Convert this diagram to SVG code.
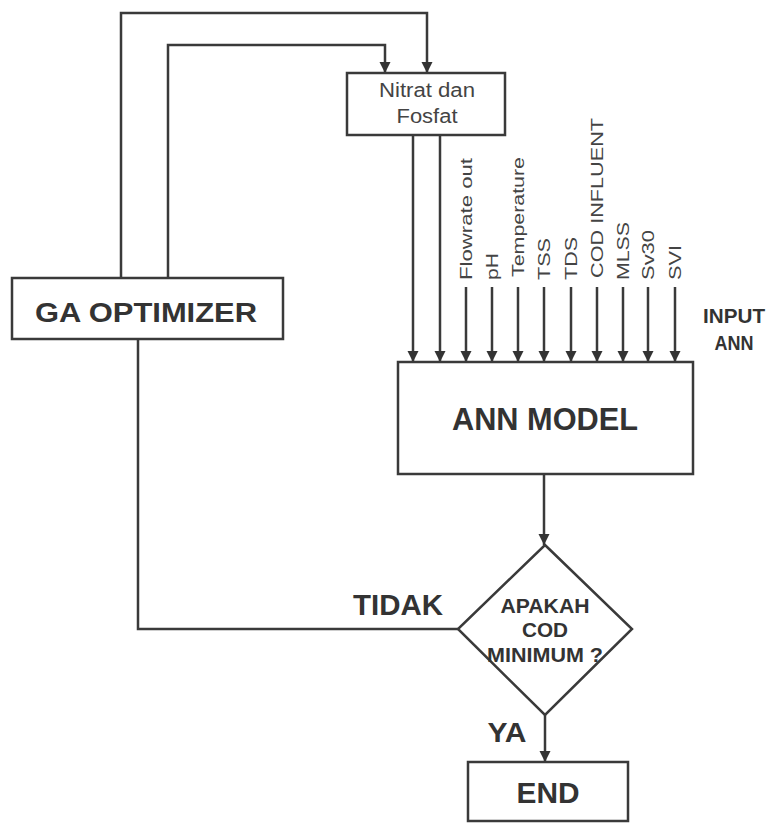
<svg xmlns="http://www.w3.org/2000/svg" width="769" height="823" viewBox="0 0 769 823">
<style>
.box{fill:#fff;stroke:#3a3a3a;stroke-width:2.5}
.ln{fill:none;stroke:#3a3a3a;stroke-width:2.5}
.b{font-family:"Liberation Sans",Arial,sans-serif;font-weight:bold;fill:#333}
.r{font-family:"Liberation Sans",Arial,sans-serif;fill:#444}
.lab{font-family:"Liberation Sans",Arial,sans-serif;fill:#444;font-size:16.5px}
</style>
<defs>
<marker id="arr" markerUnits="userSpaceOnUse" markerWidth="12" markerHeight="12" viewBox="0 0 12 12" refX="11" refY="6" orient="auto">
<path d="M0,0.5 L11,6 L0,11.5 Z" fill="#333"/>
</marker>
</defs>
<rect width="769" height="823" fill="#fff"/>
<g id="connectors">
<path class="ln" d="M121,278 V13 H427 V73" marker-end="url(#arr)"/>
<path class="ln" d="M168,278 V45 H385 V73" marker-end="url(#arr)"/>
<path class="ln" d="M413,135 V362" marker-end="url(#arr)"/>
<path class="ln" d="M440,135 V362" marker-end="url(#arr)"/>
<path class="ln" d="M466,287 V362" marker-end="url(#arr)"/>
<path class="ln" d="M492,287 V362" marker-end="url(#arr)"/>
<path class="ln" d="M518,287 V362" marker-end="url(#arr)"/>
<path class="ln" d="M544,287 V362" marker-end="url(#arr)"/>
<path class="ln" d="M571,287 V362" marker-end="url(#arr)"/>
<path class="ln" d="M597,287 V362" marker-end="url(#arr)"/>
<path class="ln" d="M623,287 V362" marker-end="url(#arr)"/>
<path class="ln" d="M648,287 V362" marker-end="url(#arr)"/>
<path class="ln" d="M675,287 V362" marker-end="url(#arr)"/>
<path class="ln" d="M544,474 V545" marker-end="url(#arr)"/>
<path class="ln" d="M458,629 H138 V339"/>
<path class="ln" d="M545,715 V762" marker-end="url(#arr)"/>
</g>
<g id="input-labels">
<text class="lab" transform="translate(472,280) rotate(-90)" textLength="122" lengthAdjust="spacingAndGlyphs">Flowrate out</text>
<text class="lab" transform="translate(498,280) rotate(-90)" textLength="27" lengthAdjust="spacingAndGlyphs">pH</text>
<text class="lab" transform="translate(524,277) rotate(-90)" textLength="120" lengthAdjust="spacingAndGlyphs">Temperature</text>
<text class="lab" transform="translate(550,280) rotate(-90)" textLength="42" lengthAdjust="spacingAndGlyphs">TSS</text>
<text class="lab" transform="translate(577,280) rotate(-90)" textLength="43" lengthAdjust="spacingAndGlyphs">TDS</text>
<text class="lab" transform="translate(603,278) rotate(-90)" textLength="160" lengthAdjust="spacingAndGlyphs">COD INFLUENT</text>
<text class="lab" transform="translate(629,280) rotate(-90)" textLength="58" lengthAdjust="spacingAndGlyphs">MLSS</text>
<text class="lab" transform="translate(654,280) rotate(-90)" textLength="50" lengthAdjust="spacingAndGlyphs">Sv30</text>
<text class="lab" transform="translate(681,280) rotate(-90)" textLength="35" lengthAdjust="spacingAndGlyphs">SVI</text>
<text class="b" x="734" y="323" font-size="20.5" text-anchor="middle" textLength="62" lengthAdjust="spacingAndGlyphs">INPUT</text>
<text class="b" x="734" y="350" font-size="20.5" text-anchor="middle" textLength="39" lengthAdjust="spacingAndGlyphs">ANN</text>
</g>
<g id="nitrat">
<rect class="box" x="347" y="73" width="158" height="62"/>
<text class="r" x="427" y="97" font-size="19.5" text-anchor="middle" textLength="96" lengthAdjust="spacingAndGlyphs">Nitrat dan</text>
<text class="r" x="427" y="123" font-size="19.5" text-anchor="middle" textLength="61" lengthAdjust="spacingAndGlyphs">Fosfat</text>
</g>
<g id="ga">
<rect class="box" x="12" y="278" width="271" height="61"/>
<text class="b" x="146" y="322" font-size="27" text-anchor="middle" textLength="222" lengthAdjust="spacingAndGlyphs">GA OPTIMIZER</text>
</g>
<g id="ann">
<rect class="box" x="398" y="362" width="295" height="112"/>
<text class="b" x="545" y="430" font-size="30.5" text-anchor="middle" textLength="186" lengthAdjust="spacingAndGlyphs">ANN MODEL</text>
</g>
<g id="decision">
<polygon class="box" points="545,545 632,629 545,715 458,629"/>
<text class="b" x="545" y="613" font-size="20.5" text-anchor="middle" textLength="89" lengthAdjust="spacingAndGlyphs">APAKAH</text>
<text class="b" x="545" y="637" font-size="20.5" text-anchor="middle" textLength="46" lengthAdjust="spacingAndGlyphs">COD</text>
<text class="b" x="545" y="662" font-size="20.5" text-anchor="middle" textLength="116" lengthAdjust="spacingAndGlyphs">MINIMUM ?</text>
</g>
<g id="branch-labels">
<text class="b" x="398" y="615" font-size="30" text-anchor="middle" textLength="90" lengthAdjust="spacingAndGlyphs">TIDAK</text>
<text class="b" x="507" y="742" font-size="28" text-anchor="middle" textLength="39" lengthAdjust="spacingAndGlyphs">YA</text>
</g>
<g id="end">
<rect class="box" x="468" y="762" width="160" height="59"/>
<text class="b" x="548" y="803" font-size="29.5" text-anchor="middle" textLength="63" lengthAdjust="spacingAndGlyphs">END</text>
</g>
</svg>
